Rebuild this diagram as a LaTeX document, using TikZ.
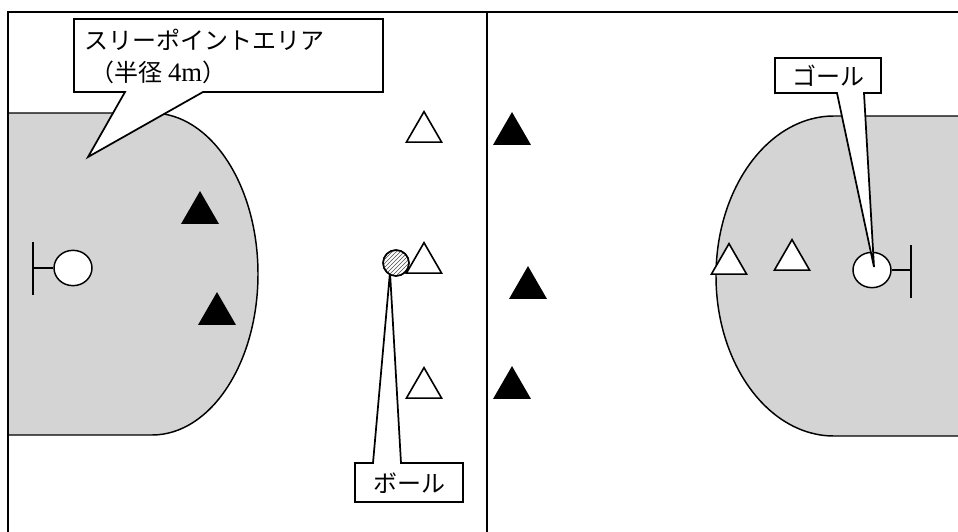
\documentclass[tikz,border=0pt]{standalone}
\usepackage{fontspec}
\newfontfamily\jp{Noto Sans CJK JP}
\usetikzlibrary{shapes.geometric,patterns}
\definecolor{shade}{RGB}{212,212,212}
\begin{document}
\begin{tikzpicture}[x=0.75pt,y=-0.75pt,
  line width=1.1pt,
  area/.style={fill=shade},
  callout/.style={draw=black,fill=white,line width=1.3pt},
  lbl/.style={font=\jp\fontsize{18}{22}\selectfont,inner sep=0pt},
  tri/.style={regular polygon,regular polygon sides=3,minimum size=30.5pt,inner sep=0pt,draw=black,line width=1.2pt},
  wtri/.style={tri,fill=white},
  btri/.style={tri,fill=black},
  goalc/.style={ellipse,draw=black,fill=white,minimum width=28.5pt,minimum height=26.5pt,inner sep=0pt,line width=1.1pt}
]
\useasboundingbox (0,0) rectangle (958,532);
% shaded three-point areas
\fill[area] (8,113) -- (152,113) arc[start angle=90,end angle=-90,x radius=79.5pt,y radius=120.75pt] -- (8,435) -- cycle;
\draw (8,113) -- (152,113) arc[start angle=90,end angle=-90,x radius=79.5pt,y radius=120.75pt] -- (8,435);
\fill[area] (958,116) -- (834,116) arc[start angle=90,end angle=270,x radius=88.5pt,y radius=120pt] -- (958,436) -- cycle;
\draw (958,116) -- (834,116) arc[start angle=90,end angle=270,x radius=88.5pt,y radius=120pt] -- (958,436);
% court lines
\draw[line width=1.4pt] (8,532) -- (8,12) -- (958,12);
\draw[line width=1.4pt] (487,12) -- (487,532);
% goals
\node[goalc] (gl) at (73,268) {};
\coordinate (blT) at (33,242); \coordinate (blB) at (33,295);
\draw (blT) -- (blB);
\draw (33,268) -- (gl.west);
\node[goalc] (gr) at (872,270) {};
\coordinate (brT) at (911,245); \coordinate (brB) at (911,298);
\draw (brT) -- (brB);
\draw (gr.east) -- (911,270);
% players
\node[btri] (b1) at (200,213) {};
\node[btri] (b2) at (217,314) {};
\node[wtri] (w1) at (424,132) {};
\node[wtri] (w2) at (424,263) {};
\node[wtri] (w3) at (424,388) {};
\node[btri] (b3) at (512,134) {};
\node[btri] (b4) at (528,288) {};
\node[btri] (b5) at (512,388) {};
\node[wtri] (w4) at (729,264) {};
\node[wtri] (w5) at (792,260) {};
% callouts
\draw[callout] (74,19) -- (383,19) -- (383,92) -- (203,92) -- (88,157) -- (125,92) -- (74,92) -- cycle;
\node[lbl,anchor=west] (t1) at (84,40) {スリーポイントエリア};
\node[lbl,anchor=west] (t2) at (90,72) {（半径 {\fontspec{Liberation Serif}\fontsize{20}{22}\selectfont 4m}）};
\draw[callout] (355,463) -- (373,463) -- (390,272) -- (401,463) -- (463,463) -- (463,502) -- (355,502) -- cycle;
\node[lbl] (tb) at (409,483) {ボール};
\draw[callout] (775,58) -- (881,58) -- (881,93) -- (864,93) -- (874,267) -- (837,93) -- (775,93) -- cycle;
\node[lbl] (tg) at (828,76) {ゴール};
% ball
\node[circle,draw=black,fill=white,minimum size=19.5pt,inner sep=0pt] (ball) at (396,263) {};
\fill[pattern=north east lines,pattern color=black!70] (ball.center) circle[radius=9.2pt];
\draw (ball.center) circle[radius=9.75pt];
\end{tikzpicture}
\end{document}
